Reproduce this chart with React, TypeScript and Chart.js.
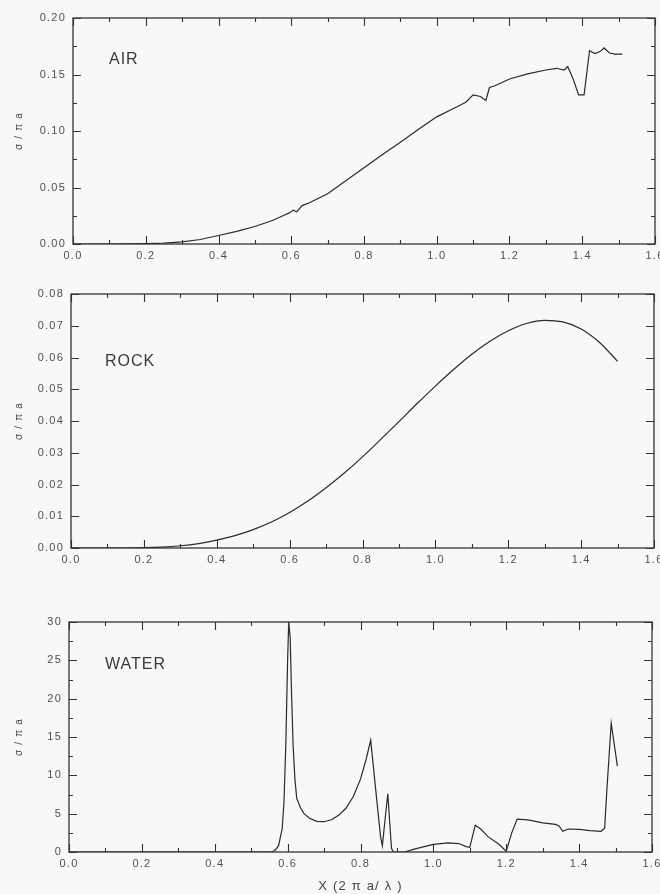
import React, { useEffect, useRef } from "react";
import { Chart, registerables } from "chart.js";

Chart.register(...registerables);

// ---------- data ----------
const airX = [0, 0.1, 0.2, 0.25, 0.3, 0.35, 0.4, 0.45, 0.5, 0.55, 0.58, 0.595, 0.605, 0.615, 0.63, 0.65, 0.7, 0.75, 0.8, 0.85, 0.9, 0.95, 1.0, 1.05, 1.08, 1.1, 1.12, 1.135, 1.145, 1.16, 1.2, 1.25, 1.3, 1.33, 1.35, 1.36, 1.375, 1.39, 1.405, 1.42, 1.435, 1.45, 1.46, 1.475, 1.49, 1.51];
const airY = [0, 0, 0.0003, 0.0008, 0.0018, 0.004, 0.0075, 0.0112, 0.0155, 0.021, 0.0255, 0.0275, 0.03, 0.0285, 0.034, 0.0365, 0.0445, 0.056, 0.0675, 0.079, 0.09, 0.1015, 0.1125, 0.1205, 0.1255, 0.132, 0.1305, 0.127, 0.1385, 0.14, 0.146, 0.1505, 0.154, 0.1555, 0.154, 0.157, 0.146, 0.132, 0.132, 0.171, 0.1685, 0.1705, 0.1735, 0.169, 0.168, 0.168];

const rockX = [0, 0.1, 0.2, 0.25, 0.3, 0.35, 0.4, 0.45, 0.5, 0.55, 0.6, 0.65, 0.7, 0.75, 0.8, 0.85, 0.9, 0.95, 1.0, 1.05, 1.1, 1.15, 1.2, 1.25, 1.3, 1.35, 1.4, 1.45, 1.5];
const rockY = [0, 0, 0.0001, 0.0003, 0.0007, 0.0014, 0.0025, 0.0039, 0.0058, 0.0082, 0.0112, 0.0148, 0.019, 0.0236, 0.0287, 0.0342, 0.0398, 0.0455, 0.051, 0.0562, 0.061, 0.0651, 0.0684, 0.0707, 0.0717, 0.0712, 0.069, 0.0648, 0.0588];

const waterX = [0, 0.1, 0.3, 0.5, 0.555, 0.565, 0.575, 0.585, 0.59, 0.595, 0.6, 0.603, 0.607, 0.61, 0.615, 0.62, 0.625, 0.635, 0.645, 0.66, 0.68, 0.7, 0.72, 0.74, 0.76, 0.78, 0.8, 0.815, 0.828, 0.842, 0.855, 0.86, 0.868, 0.875, 0.88, 0.885, 0.89, 0.92, 0.95, 1.0, 1.04, 1.07, 1.09, 1.1, 1.115, 1.13, 1.15, 1.18, 1.2, 1.215, 1.23, 1.26, 1.3, 1.335, 1.345, 1.355, 1.37, 1.4, 1.43, 1.46, 1.47, 1.476, 1.488, 1.505];
const waterY = [0, 0, 0, 0, 0, 0.2, 0.8, 3, 6.5, 14, 25, 30, 28, 22, 14, 9.5, 7, 5.8, 5, 4.4, 4.0, 3.95, 4.2, 4.8, 5.7, 7.2, 9.5, 12, 14.6, 8, 2, 0.8, 4.5, 7.6, 4, 0.5, 0, 0, 0.4, 1.0, 1.2, 1.1, 0.7, 0.6, 3.5, 3.0, 2.0, 1.0, 0.1, 2.5, 4.3, 4.2, 3.8, 3.6, 3.4, 2.7, 3.0, 2.95, 2.8, 2.7, 3.1, 8, 16.8, 11.2];

const panelNames = ["AIR", "ROCK", "WATER"];
const yTitle = "σ / π a";
const xTitle = "X (2 π a/ λ )";

const INK = "#2a2a2a";
const TEXT = "#505050";
const FONT = "'Liberation Sans', Arial, sans-serif";

const frameTicksPlugin = {
  id: "frameTicks",
  beforeDraw(chart: any) {
    (chart.ctx as any).letterSpacing = "1.2px";
  },
  afterDatasetsDraw(chart: any, _args: any, opts: any) {
    const { ctx, chartArea } = chart;
    const { left, right, top, bottom } = chartArea;
    const xs = chart.scales.x;
    const ys = chart.scales.y;
    ctx.save();
    ctx.strokeStyle = "#333";
    ctx.lineWidth = 1.3;
    ctx.strokeRect(left, top, right - left, bottom - top);
    ctx.lineWidth = 1.1;
    const maj = 8;
    const min = 4;
    const xv = xs.ticks.map((t: any) => t.value);
    const yv = ys.ticks.map((t: any) => t.value);
    ctx.beginPath();
    xv.forEach((v: number, i: number) => {
      const p = Math.round(xs.getPixelForValue(v)) + 0.5;
      ctx.moveTo(p, bottom); ctx.lineTo(p, bottom - maj);
      ctx.moveTo(p, top); ctx.lineTo(p, top + maj);
      if (i < xv.length - 1) {
        const q = Math.round(xs.getPixelForValue((v + xv[i + 1]) / 2)) + 0.5;
        ctx.moveTo(q, bottom); ctx.lineTo(q, bottom - min);
        ctx.moveTo(q, top); ctx.lineTo(q, top + min);
      }
    });
    yv.forEach((v: number, i: number) => {
      const p = Math.round(ys.getPixelForValue(v)) + 0.5;
      ctx.moveTo(left, p); ctx.lineTo(left + maj, p);
      ctx.moveTo(right, p); ctx.lineTo(right - maj, p);
      if (opts.yMinor && i < yv.length - 1) {
        const q = Math.round(ys.getPixelForValue((v + yv[i + 1]) / 2)) + 0.5;
        ctx.moveTo(left, q); ctx.lineTo(left + min, q);
        ctx.moveTo(right, q); ctx.lineTo(right - min, q);
      }
    });
    ctx.stroke();
    // panel name
    ctx.fillStyle = "#3a3a3a";
    ctx.font = `16px ${FONT}`;
    (ctx as any).letterSpacing = "1px";
    ctx.textBaseline = "middle";
    ctx.textAlign = "left";
    ctx.fillText(opts.name, left + opts.nameDx, top + opts.nameDy);
    ctx.restore();
  },
  afterDraw(chart: any) {
    (chart.ctx as any).letterSpacing = "0px";
  },
};

type PanelSpec = {
  xs: number[];
  ys: number[];
  yMax: number;
  yStep: number;
  yDec: number;
  yMinor: boolean;
  name: string;
  nameDx: number;
  nameDy: number;
  padTop: number;
  padRight: number;
  leftW: number;
  bottomH: number;
  showXTitle: boolean;
  smooth: boolean;
};

function makeConfig(s: PanelSpec): any {
  return {
    type: "line",
    data: {
      datasets: [
        {
          data: s.xs.map((x, i) => ({ x, y: s.ys[i] })),
          borderColor: INK,
          borderWidth: 1.2,
          pointRadius: 0,
          fill: false,
          tension: s.smooth ? 0.4 : 0,
          cubicInterpolationMode: s.smooth ? "monotone" : "default",
        },
      ],
    },
    options: {
      animation: false,
      responsive: false,
      maintainAspectRatio: false,
      layout: { padding: { top: s.padTop, right: s.padRight, left: 0, bottom: 0 } },
      plugins: {
        legend: { display: false },
        tooltip: { enabled: false },
        frameTicks: { yMinor: s.yMinor, name: s.name, nameDx: s.nameDx, nameDy: s.nameDy },
      },
      scales: {
        x: {
          type: "linear",
          min: 0,
          max: 1.6,
          grid: { display: false, drawTicks: false },
          border: { display: false },
          ticks: {
            stepSize: 0.2,
            autoSkip: false,
            padding: 5,
            color: TEXT,
            font: { family: FONT, size: 11 },
            callback: (v: any) => Number(v).toFixed(1),
          },
          title: {
            display: s.showXTitle,
            text: xTitle,
            color: "#444",
            font: { family: FONT, size: 13 },
            padding: { top: 0, bottom: 0 },
          },
          afterFit: (scale: any) => {
            scale.height = s.bottomH;
            scale.paddingLeft = 0;
            scale.paddingRight = 0;
          },
        },
        y: {
          type: "linear",
          min: 0,
          max: s.yMax,
          grid: { display: false, drawTicks: false },
          border: { display: false },
          ticks: {
            stepSize: s.yStep,
            autoSkip: false,
            padding: 7,
            color: TEXT,
            font: { family: FONT, size: 11 },
            callback: (v: any) => Number(v).toFixed(s.yDec),
          },
          title: {
            display: true,
            text: yTitle,
            color: "#444",
            font: { family: FONT, size: 10 },
            padding: { top: 13, bottom: 0 },
          },
          afterFit: (scale: any) => {
            scale.width = s.leftW;
            scale.paddingTop = 0;
            scale.paddingBottom = 0;
          },
        },
      },
    },
    plugins: [frameTicksPlugin],
  };
}

const specs: PanelSpec[] = [
  { xs: airX, ys: airY, yMax: 0.2, yStep: 0.05, yDec: 2, yMinor: true, name: panelNames[0], nameDx: 36, nameDy: 42, padTop: 18, padRight: 5, leftW: 73, bottomH: 26, showXTitle: false, smooth: false },
  { xs: rockX, ys: rockY, yMax: 0.08, yStep: 0.01, yDec: 2, yMinor: false, name: panelNames[1], nameDx: 34, nameDy: 68, padTop: 24, padRight: 6, leftW: 71, bottomH: 22, showXTitle: false, smooth: true },
  { xs: waterX, ys: waterY, yMax: 30, yStep: 5, yDec: 0, yMinor: true, name: panelNames[2], nameDx: 36, nameDy: 43, padTop: 42, padRight: 8, leftW: 69, bottomH: 42, showXTitle: true, smooth: false },
];

const canvasBoxes = [
  { top: 0, height: 270 },
  { top: 270, height: 300 },
  { top: 580, height: 314 },
];

export default function App() {
  const refs = [useRef<HTMLCanvasElement>(null), useRef<HTMLCanvasElement>(null), useRef<HTMLCanvasElement>(null)];
  useEffect(() => {
    const charts = refs.map((r, i) => new Chart(r.current as HTMLCanvasElement, makeConfig(specs[i])));
    return () => charts.forEach((c) => c.destroy());
  }, []);
  return (
    <div style={{ position: "fixed", left: 0, top: 0, width: 660, height: 894, background: "#f8f8f6", overflow: "hidden" }}>
      {canvasBoxes.map((b, i) => (
        <canvas
          key={i}
          ref={refs[i]}
          width={660}
          height={b.height}
          style={{ position: "absolute", left: 0, top: b.top, width: 660, height: b.height, display: "block" }}
        />
      ))}
    </div>
  );
}
